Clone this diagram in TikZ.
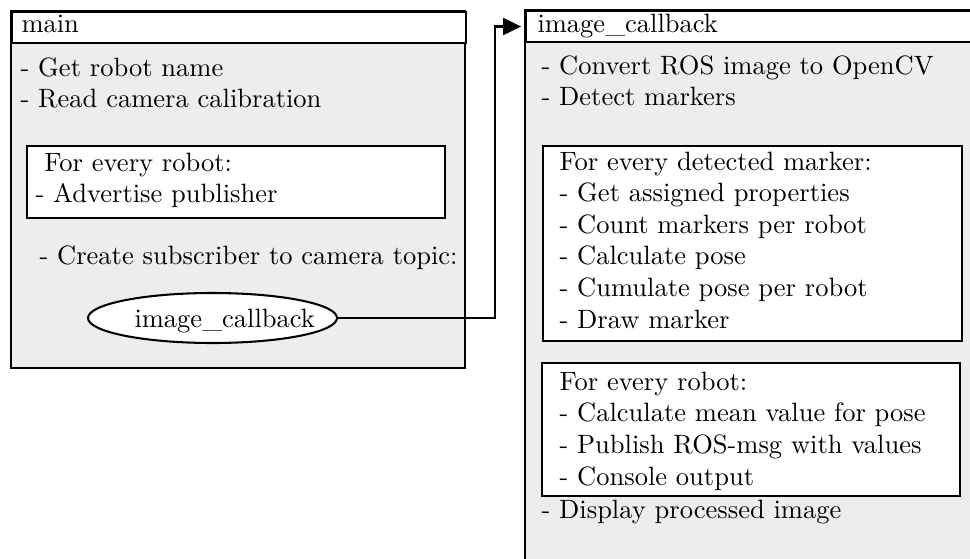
\documentclass[tikz,border=0pt]{standalone}
\usetikzlibrary{arrows.meta,positioning,shapes.geometric}
\newcommand{\pxu}{0.3885pt}
\tikzset{
  panel/.style={draw, thick, fill=black!7},
  loopbox/.style={draw, thick, fill=white},
  titlebar/.style={draw, thick, fill=white, anchor=north west, inner sep=0pt,
    minimum height=31*\pxu},
  txt/.style={anchor=base west, inner sep=0pt, align=left, font=\fontsize{10.3}{12.25}\selectfont},
  cbnode/.style={ellipse, draw, thick, fill=white, inner sep=0pt,
    minimum width=249*\pxu, minimum height=50*\pxu},
  link/.style={thick, -{Triangle[length=7pt,width=6.6pt]}, shorten >=1.5pt},
}
\begin{document}
\begin{tikzpicture}[x=\pxu, y=-\pxu]
  \clip (0,0) rectangle (970,559);
  % main
  \draw[panel] (11,11) rectangle (465,368);
  \node[titlebar, minimum width=454*\pxu] (mt) at (11,11) {};
  \node[txt] (mtname) at (21,33) {main};
  \node[txt] (mainsteps) at (20,108) {- Get robot name\\- Read camera calibration};
  \draw[loopbox] (27,146) rectangle (445,218);
  \node[txt] (robotloop) at (35,203) {\ For every robot:\\- Advertise publisher};
  \node[txt] (subscribe) at (39,265) {- Create subscriber to camera topic:};
  \node[cbnode] (cb) at (212.5,318) {};
  \node[txt] (cbname) at (134,327) {image\_callback};
  % image_callback
  \draw[panel] (525,10) rectangle (1000,600);
  \node[titlebar, minimum width=475*\pxu] (cbt) at (525,10) {};
  \node[txt] (cbtname) at (537,33) {image\_callback};
  \node[txt] (cbsteps) at (541,106) {- Convert ROS image to OpenCV\\- Detect markers};
  \draw[loopbox] (543,146) rectangle (962,341);
  \node[txt] (markerloop) at (559,328) {For every detected marker:\\- Get assigned properties\\- Count markers per robot\\- Calculate pose\\- Cumulate pose per robot\\- Draw marker};
  \draw[loopbox] (542,363) rectangle (960,496);
  \node[txt] (robotloop2) at (559,485) {For every robot:\\- Calculate mean value for pose\\- Publish ROS-msg with values\\- Console output};
  \node[txt] (display) at (541,518) {- Display processed image};
  % callback link
  \draw[link] (cb.east) -- ++(157,0) |- (cbt.west);
\end{tikzpicture}
\end{document}
